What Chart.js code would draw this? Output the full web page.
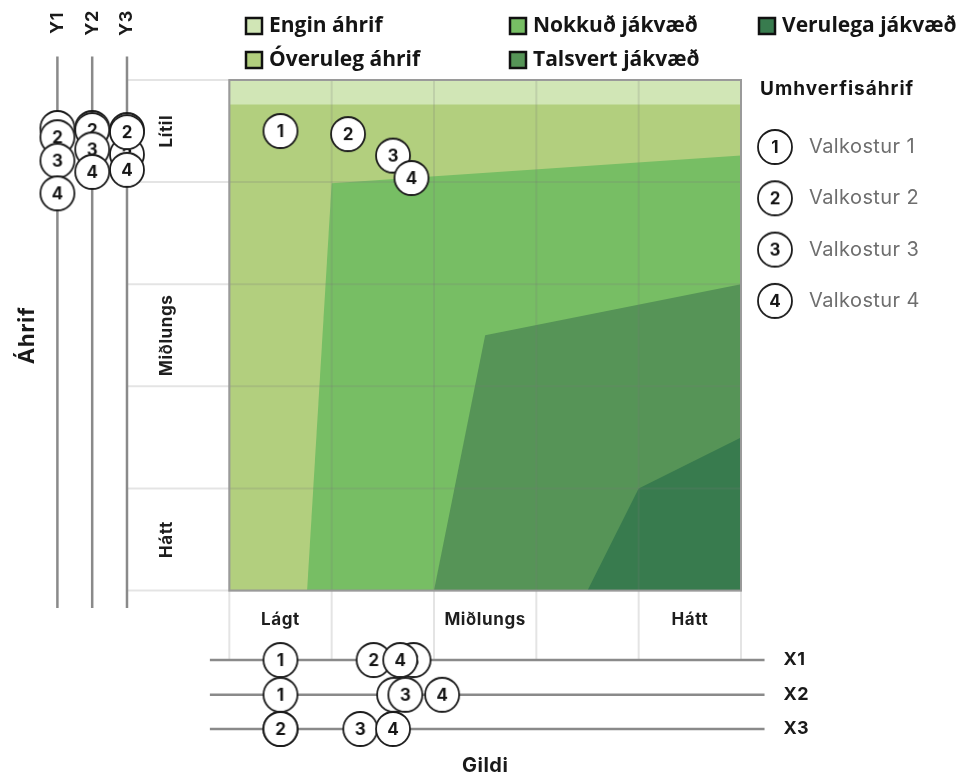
<!DOCTYPE html>
<html lang="is">
<head>
<meta charset="UTF-8">
<title>Gildi og umhverfisáhrif valkosta</title>
<style>
  body { margin: 0; background: #fff; }
  #wrap { width: 965px; height: 776px; }
</style>
<script src="https://cdn.jsdelivr.net/npm/chart.js"></script>
</head>
<body>
<div id="wrap"><canvas id="chart" width="965" height="776"></canvas></div>
<script>
// --- data -------------------------------------------------------------
const optionLabels = ['Valkostur 1', 'Valkostur 2', 'Valkostur 3', 'Valkostur 4'];
const optionNums = ['1', '2', '3', '4'];

// overall position of each option (Gildi across, Áhrif up)
const overallGildi = [0.50, 1.16, 1.60, 1.78];
const overallAhrif = [4.50, 4.47, 4.26, 4.04];

// value on each criterion axis
const gildiX1 = [0.50, 1.41, 1.80, 1.67];
const gildiX2 = [0.50, 1.61, 1.72, 2.08];
const gildiX3 = [0.50, 0.50, 1.28, 1.60];
const ahrifY1 = [4.53, 4.44, 4.21, 3.89];
const ahrifY2 = [4.53, 4.51, 4.32, 4.10];
const ahrifY3 = [4.51, 4.49, 4.27, 4.12];

const gildiTicks = ['Lágt', '', 'Miðlungs', '', 'Hátt'];
const ahrifTicks = ['Hátt', '', 'Miðlungs', '', 'Lítil'];

// zone boundaries, each zone filled down to 0
const zoneNames = ['Engin áhrif', 'Óveruleg áhrif', 'Nokkuð jákvæð', 'Talsvert jákvæð', 'Verulega jákvæð'];
const zoneX = [[0, 5], [0, 5], [0.76, 1.0, 5], [2.0, 2.5, 5], [3.5, 4.0, 5]];
const zoneY = [[5, 5], [4.76, 4.76], [0, 3.99, 4.26], [0, 2.5, 3.0], [0, 1.0, 1.5]];
const zoneColors = ['#d1e6b6', '#b2cf7e', '#77be64', '#569457', '#387b4e'];

// --- layout -----------------------------------------------------------
const FONT = 'Inter, "Open Sans", sans-serif';
const Y_AXIS_POS = [-1.68, -1.34, -1.0];     // x value of the Y1..Y3 rails
const X_AXIS_POS = [-0.68, -1.02, -1.355];   // y value of the X1..X3 rails
const DEFAULT_SEQ = [0, 1, 2, 3];
const Y3_SEQ = [0, 2, 1, 3];                 // badge 2 sits over 3 on Y3

function makeBadge(n) {
  const c = document.createElement('canvas');
  c.width = 38; c.height = 38;
  const g = c.getContext('2d');
  g.beginPath();
  g.arc(19, 19, 17, 0, Math.PI * 2);
  g.fillStyle = '#fff';
  g.fill();
  g.lineWidth = 1.8;
  g.strokeStyle = '#1c1c1c';
  g.stroke();
  g.fillStyle = '#151515';
  g.font = 'bold 17px ' + FONT;
  g.textAlign = 'center';
  g.textBaseline = 'middle';
  g.fillText(n, 19, 20);
  return c;
}
const badges = optionNums.map(makeBadge);

function badgeSet(label, xs, ys, seq) {
  seq = seq || DEFAULT_SEQ;
  return {
    label,
    data: seq.map(k => ({ x: xs[k], y: ys[k] })),
    showLine: false,
    pointStyle: seq.map(k => badges[k]),
    pointRadius: 17,
    order: 0,
    clip: false
  };
}

const datasets = zoneNames.map((name, i) => ({
  label: name,
  data: zoneX[i].map((x, k) => ({ x, y: zoneY[i][k] })),
  borderWidth: 0,
  pointRadius: 0,
  backgroundColor: zoneColors[i],
  fill: { value: 0 },
  order: 10 - i
}));

datasets.push(badgeSet('Umhverfisáhrif', overallGildi, overallAhrif));
[ahrifY1, ahrifY2, ahrifY3].forEach((vals, j) => {
  datasets.push(badgeSet('Y' + (j + 1), vals.map(() => Y_AXIS_POS[j]), vals, j === 2 ? Y3_SEQ : null));
});
[gildiX1, gildiX2, gildiX3].forEach((vals, j) => {
  datasets.push(badgeSet('X' + (j + 1), vals, vals.map(() => X_AXIS_POS[j])));
});

function label(ctx, str, x, y, font, color, align, rot, spacing) {
  ctx.save();
  ctx.translate(x, y);
  if (rot) ctx.rotate(rot);
  ctx.font = font;
  ctx.letterSpacing = (spacing || 0) + 'px';
  ctx.fillStyle = color;
  ctx.textAlign = align || 'center';
  ctx.textBaseline = 'middle';
  ctx.fillText(str, 0, 0);
  ctx.restore();
}

// grid, plot frame and the criterion rails, under the badges
const framePlugin = {
  id: 'frame',
  beforeDatasetsDraw(chart) {
    const { ctx, scales: { x, y } } = chart;
    const px = v => x.getPixelForValue(v);
    const py = v => y.getPixelForValue(v);
    ctx.save();
    ctx.strokeStyle = 'rgba(120,120,120,0.2)';
    ctx.lineWidth = 2;
    for (let v = 0; v <= 5; v++) {
      ctx.beginPath();
      ctx.moveTo(px(v), py(5));
      ctx.lineTo(px(v), py(X_AXIS_POS[0]));
      ctx.stroke();
      ctx.beginPath();
      ctx.moveTo(px(Y_AXIS_POS[2]), py(v));
      ctx.lineTo(px(5), py(v));
      ctx.stroke();
    }
    ctx.strokeStyle = '#9a9a9a';
    ctx.lineWidth = 2;
    ctx.strokeRect(px(0), py(5), px(5) - px(0), py(0) - py(5));

    ctx.strokeStyle = '#8a8a8a';
    ctx.lineWidth = 2.5;
    Y_AXIS_POS.forEach(p => {
      ctx.beginPath();
      ctx.moveTo(px(p), py(5.23));
      ctx.lineTo(px(p), py(-0.17));
      ctx.stroke();
    });
    X_AXIS_POS.forEach(p => {
      ctx.beginPath();
      ctx.moveTo(px(-0.19), py(p));
      ctx.lineTo(px(5.23), py(p));
      ctx.stroke();
    });
    ctx.restore();
  },
  afterDraw(chart) {
    const { ctx, scales: { x, y } } = chart;
    const px = v => x.getPixelForValue(v);
    const py = v => y.getPixelForValue(v);
    const bold = s => 'bold ' + s + 'px ' + FONT;

    // tick labels
    gildiTicks.forEach((t, i) => {
      if (t) label(ctx, t, px(i + 0.5), py(0) + 29, bold(17), '#1e1e1e', 'center', 0, 0.6);
    });
    ahrifTicks.forEach((t, i) => {
      if (t) label(ctx, t, px(0) - 62, py(i + 0.5), bold(17), '#1e1e1e', 'center', -Math.PI / 2, 0.6);
    });

    // axis titles
    label(ctx, 'Áhrif', 27, py(2.5), bold(22), '#1a1a1a', 'center', -Math.PI / 2, 0.8);
    label(ctx, 'Gildi', px(2.5), 766, bold(20), '#1a1a1a', 'center', 0, 0.5);

    // rail names
    Y_AXIS_POS.forEach((p, j) => {
      label(ctx, 'Y' + (j + 1), px(p), 23, bold(18), '#1a1a1a', 'center', -Math.PI / 2, 0.5);
    });
    X_AXIS_POS.forEach((p, j) => {
      label(ctx, 'X' + (j + 1), px(5.23) + 19, py(p), bold(18), '#1a1a1a', 'left', 0, 0.5);
    });

    // zone legend, two rows per column
    const cols = [246, 510, 759];
    const rows = [26, 60];
    zoneNames.forEach((name, i) => {
      const lx = cols[Math.floor(i / 2)];
      const ly = rows[i % 2];
      ctx.save();
      ctx.fillStyle = zoneColors[i];
      ctx.fillRect(lx, ly - 8, 16, 16);
      ctx.strokeStyle = '#111';
      ctx.lineWidth = 2.5;
      ctx.strokeRect(lx, ly - 8, 16, 16);
      ctx.restore();
      label(ctx, name, lx + 23, ly, 'bold 21px "Open Sans", sans-serif', '#151515', 'left');
    });

    // option legend
    label(ctx, 'Umhverfisáhrif', 760, 89, bold(19), '#151515', 'left', 0, 1);
    optionLabels.forEach((name, i) => {
      const cy = 147 + i * 51.3;
      ctx.drawImage(badges[i], 775 - 19, cy - 19);
      label(ctx, name, 809, cy, '20px ' + FONT, '#6e6e6e', 'left', 0, 0.4);
    });
  }
};

new Chart(document.getElementById('chart'), {
  type: 'line',
  data: { datasets },
  options: {
    responsive: false,
    animation: false,
    events: [],
    layout: { padding: { left: 40, right: 224, top: 80, bottom: 22 } },
    scales: {
      x: { type: 'linear', min: -1.85, max: 5, display: false },
      y: { type: 'linear', min: -1.6, max: 5, display: false }
    },
    plugins: {
      legend: { display: false },
      tooltip: { enabled: false },
      filler: { drawTime: 'beforeDatasetsDraw' }
    }
  },
  plugins: [framePlugin]
});
</script>
</body>
</html>
